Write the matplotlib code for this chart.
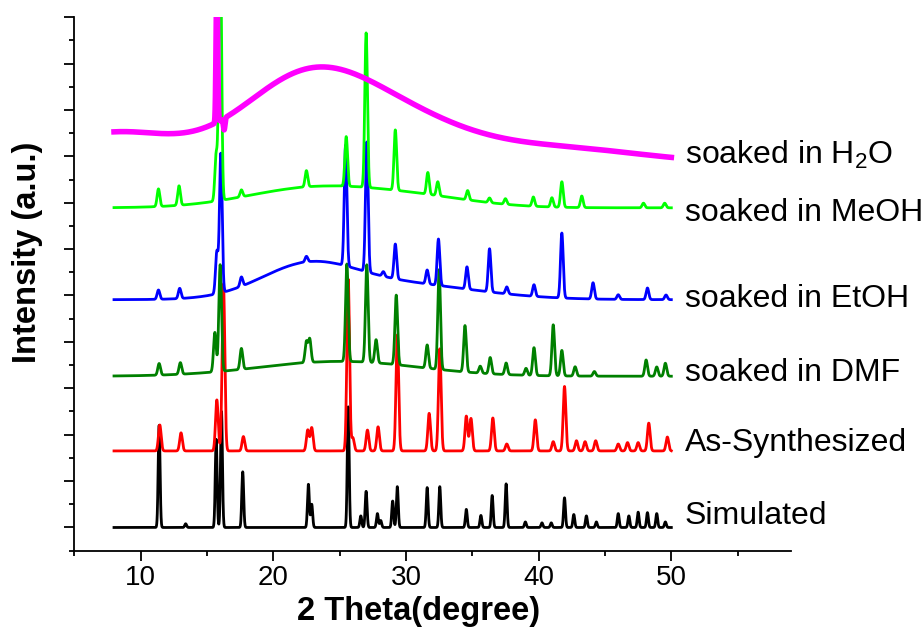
import numpy as np
import matplotlib.pyplot as plt

plt.rcParams['font.family'] = ['Liberation Sans', 'DejaVu Sans']
plt.rcParams['mathtext.default'] = 'regular'

# 2theta range of the patterns
tt_start, tt_end = 8.0, 50.0

# peak lists: position (2theta) and height (a.u., one major y tick = 1)
sim_pos = [11.4, 13.4, 15.7, 16.1, 17.7, 22.65, 22.9, 25.65, 26.6, 27.0, 27.85, 28.1, 29.0, 29.35,
           31.6, 32.55, 34.55, 35.65, 36.5, 37.55, 39.0, 40.25, 40.95, 41.95, 42.65, 43.6, 44.35,
           46.0, 46.8, 47.5, 48.2, 48.9, 49.55]
sim_h = [2.2, 0.08, 1.9, 2.5, 1.2, 0.93, 0.5, 2.6, 0.25, 0.78, 0.3, 0.15, 0.57, 0.88,
         0.86, 0.88, 0.39, 0.26, 0.69, 0.94, 0.12, 0.1, 0.1, 0.64, 0.28, 0.25, 0.12,
         0.3, 0.25, 0.33, 0.32, 0.3, 0.12]

as_pos = [11.45, 13.05, 15.75, 16.25, 17.75, 22.6, 22.9, 25.65, 26.0, 27.1, 27.9, 29.35, 31.75,
          32.55, 34.55, 34.9, 36.55, 37.6, 39.75, 41.1, 41.95, 42.85, 43.5, 44.3, 46.0, 46.7,
          47.5, 48.3, 49.7]
as_h = [0.56, 0.39, 1.1, 3.6, 0.31, 0.45, 0.5, 3.7, 0.28, 0.45, 0.52, 2.5, 0.81,
        2.2, 0.75, 0.7, 0.71, 0.15, 0.67, 0.2, 1.39, 0.22, 0.2, 0.22, 0.15, 0.18,
        0.18, 0.6, 0.3]

dmf_pos = [11.4, 13.0, 15.6, 16.0, 17.6, 22.5, 22.75, 25.55, 27.05, 27.75, 29.27, 31.6, 32.5,
           34.45, 35.6, 36.35, 37.55, 39.05, 39.65, 41.1, 41.75, 42.75, 44.2, 48.1, 48.9, 49.55]
dmf_h = [0.25, 0.25, 0.85, 2.3, 0.45, 0.45, 0.5, 2.1, 2.1, 0.5, 1.5, 0.5, 2.15,
         1.0, 0.15, 0.35, 0.25, 0.15, 0.6, 1.1, 0.55, 0.2, 0.1, 0.35, 0.2, 0.28]

etoh_pos = [11.35, 12.95, 15.75, 16.05, 17.6, 22.5, 25.45, 27.05, 28.3, 29.2, 31.6, 32.45,
            34.6, 36.3, 37.6, 39.65, 41.75, 44.1, 46.0, 48.2, 49.6]
etoh_h = [0.2, 0.22, 0.9, 3.0, 0.2, 0.12, 2.6, 2.8, 0.1, 0.75, 0.3, 1.0,
          0.48, 0.93, 0.15, 0.25, 1.4, 0.35, 0.1, 0.25, 0.1]

meoh_pos = [11.35, 12.9, 15.7, 16.0, 17.6, 22.5, 25.5, 27.0, 29.2, 31.65, 32.4, 34.65, 36.3,
            37.5, 39.6, 41.0, 41.75, 43.25, 47.9, 49.5]
meoh_h = [0.38, 0.42, 1.0, 6.0, 0.15, 0.35, 1.07, 3.33, 1.3, 0.47, 0.3, 0.2, 0.1,
          0.12, 0.2, 0.2, 0.55, 0.25, 0.1, 0.1]

h2o_pos = [15.75, 16.3]
h2o_h = [3.0, -0.25]

# amorphous humps: centre, height, width
dmf_hump = ([25.0], [0.32], [6.0])
etoh_hump = ([22.5, 29.0], [0.62, 0.35], [3.5, 6.0])
meoh_hump = ([23.0, 31.0], [0.42, 0.2], [5.0, 4.5])
h2o_hump = ([8.0, 22.5, 30.0, 41.0], [0.65, 1.8, 0.7, 0.33], [4.5, 5.0, 5.0, 6.5])

labels = ['Simulated', 'As-Synthesized', 'soaked in DMF', 'soaked in EtOH',
          'soaked in MeOH', r'soaked in H$_2$O']
offsets = [0.0, 1.65, 3.26, 4.91, 6.89, 7.85]
label_y = [0.24, 1.83, 3.32, 4.93, 6.77, 8.04]
colors = ['black', '#ff0000', '#008000', '#0000ff', '#00ff00', '#ff00ff']

tt = np.arange(tt_start, tt_end + 0.001, 0.01)


def pattern(pos, h, sig, hump=None):
    y = np.zeros_like(tt)
    for p, a in zip(pos, h):
        y += a * np.exp(-0.5 * ((tt - p) / sig) ** 2)
    if hump is not None:
        for c, a, w in zip(*hump):
            y += a * np.exp(-0.5 * ((tt - c) / w) ** 2)
    return y


curves = [pattern(sim_pos, sim_h, 0.07),
          pattern(as_pos, as_h, 0.1),
          pattern(dmf_pos, dmf_h, 0.1, dmf_hump),
          pattern(etoh_pos, etoh_h, 0.1, etoh_hump),
          pattern(meoh_pos, meoh_h, 0.1, meoh_hump),
          pattern(h2o_pos, h2o_h, 0.06, h2o_hump)]
widths = [2.0, 2.0, 2.0, 2.0, 2.0, 4.0]

fig = plt.figure(figsize=(9.24, 6.41), dpi=100)
ax = fig.add_axes([0.0803, 0.1409, 0.7755, 0.8324])

for y, off, c, lw in zip(curves, offsets, colors, widths):
    ax.plot(tt, y + off, color=c, lw=lw)

for lab, ly in zip(labels, label_y):
    ax.text(51.0, ly, lab, fontsize=23, va='center', ha='left', clip_on=False)

ax.set_xlim(5, 59)
ax.set_ylim(-0.5, 11)
ax.set_xticks([10, 20, 30, 40, 50])
ax.set_xticks(np.arange(5, 59, 5), minor=True)
ax.set_yticks(np.arange(0, 12))
ax.set_yticks(np.arange(-0.5, 11, 1.0), minor=True)
ax.set_yticklabels([])
ax.tick_params(which='both', direction='out', width=1.3, labelsize=20, pad=3)
ax.tick_params(which='major', length=7)
ax.tick_params(which='minor', length=3.5)
for s in ['top', 'right']:
    ax.spines[s].set_visible(False)
for s in ['left', 'bottom']:
    ax.spines[s].set_linewidth(1.3)

ax.set_xlabel('2 Theta(degree)', fontsize=23.5, fontweight='bold')
ax.xaxis.set_label_coords(0.48, -0.085)
ax.set_ylabel('Intensity (a.u.)', fontsize=23.5, fontweight='bold')
ax.yaxis.set_label_coords(-0.044, 0.56)

fig.savefig('out.png', dpi=100)
